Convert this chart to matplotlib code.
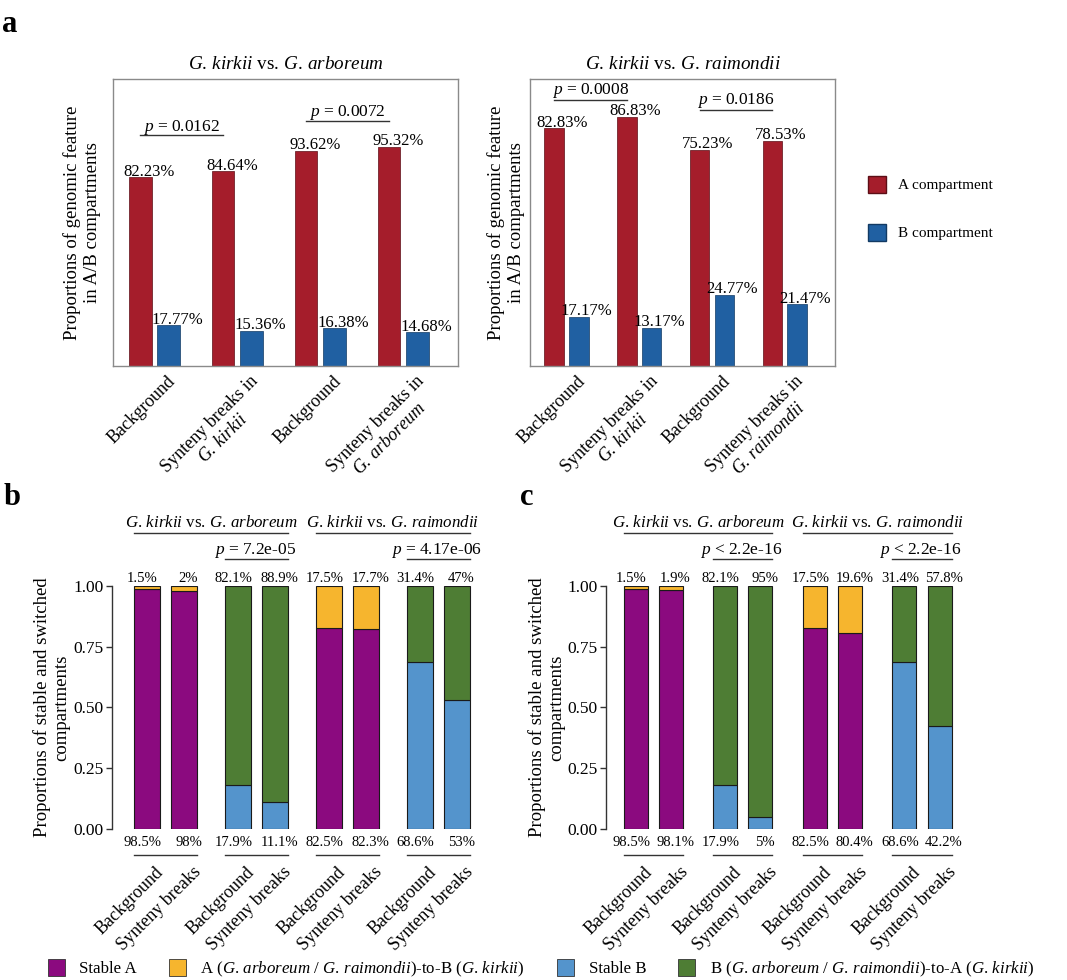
import numpy as np
import matplotlib
matplotlib.use('Agg')
import matplotlib.pyplot as plt
from matplotlib.patches import Patch
from matplotlib.transforms import ScaledTranslation

plt.rcParams['font.family'] = 'Liberation Serif'
plt.rcParams['mathtext.fontset'] = 'custom'
plt.rcParams['mathtext.rm'] = 'Liberation Serif'
plt.rcParams['mathtext.it'] = 'Liberation Serif:italic'

W, H = 1067, 980


def it(s):
    # italic species name
    return '$\\it{' + s.replace(' ', '\\,') + '}$'


# ---- panel a data (percent)
a_cats_arb = ['Background', 'Synteny breaks in\n' + it('G. kirkii'),
              'Background', 'Synteny breaks in\n' + it('G. arboreum')]
a_cats_rai = ['Background', 'Synteny breaks in\n' + it('G. kirkii'),
              'Background', 'Synteny breaks in\n' + it('G. raimondii')]
A_arb = [82.23, 84.64, 93.62, 95.32]
B_arb = [17.77, 15.36, 16.38, 14.68]
A_rai = [82.83, 86.83, 75.23, 78.53]
B_rai = [17.17, 13.17, 24.77, 21.47]
p_arb = ['0.0162', '0.0072']
p_rai = ['0.0008', '0.0186']

# ---- panels b / c data (percent; low = lower segment, high = upper segment)
bc_cats = ['Background', 'Synteny breaks'] * 4
b_low = [98.5, 98, 17.9, 11.1, 82.5, 82.3, 68.6, 53]
b_high = [1.5, 2, 82.1, 88.9, 17.5, 17.7, 31.4, 47]
c_low = [98.5, 98.1, 17.9, 5, 82.5, 80.4, 68.6, 42.2]
c_high = [1.5, 1.9, 82.1, 95, 17.5, 19.6, 31.4, 57.8]
low_type = ['Stable A', 'Stable A', 'Stable B', 'Stable B'] * 2
high_type = ['A-to-B', 'A-to-B', 'B-to-A', 'B-to-A'] * 2
comparisons = [it('G. kirkii') + ' vs. ' + it('G. arboreum'),
               it('G. kirkii') + ' vs. ' + it('G. raimondii')]
p_b = ['= 7.2e-05', '= 4.17e-06']
p_c = ['< 2.2e-16', '< 2.2e-16']

red, red_ec = '#a51d2b', '#5c0e16'
blue, blue_ec = '#2060a2', '#123a63'
cols = {'Stable A': '#8b0a7f', 'A-to-B': '#f6b52e',
        'Stable B': '#5494cc', 'B-to-A': '#4e7d34'}


def rect(x0, y0, x1, y1):
    return [x0 / W, 1 - y1 / H, (x1 - x0) / W, (y1 - y0) / H]


fig = plt.figure(figsize=(W / 100, H / 100), dpi=100)


def draw_a(ax, cats, A, B, pvals, plines, title, xlim, ylim, dx):
    x = np.arange(1, 5)
    ax.bar(x - 0.17, A, 0.27, color=red, edgecolor=red_ec, linewidth=0.5)
    ax.bar(x + 0.17, B, 0.27, color=blue, edgecolor=blue_ec, linewidth=0.5)
    for xi, v in zip(x - 0.17, A):
        ax.text(xi + 0.11, v + 0.6, f'{v:.2f}%', ha='center', va='baseline', fontsize=12)
    for xi, v in zip(x + 0.17, B):
        ax.text(xi + 0.11, v + 0.6, f'{v:.2f}%', ha='center', va='baseline', fontsize=12)
    for k, (pv, yl) in enumerate(zip(pvals, plines)):
        x0, x1 = 2 * k + 1 - 0.17, 2 * k + 2 - 0.17
        ax.plot([x0, x1], [yl, yl], color='#333333', lw=1)
        ax.text((x0 + x1) / 2, yl + 2, '$p$ = ' + pv, ha='center', va='baseline', fontsize=12.5)
    ax.set_xlim(xlim)
    ax.set_ylim(ylim)
    ax.set_yticks([])
    ax.set_xticks(x, cats, rotation=45, ha='right', rotation_mode='anchor',
                  multialignment='center', fontsize=13)
    ax.tick_params(axis='x', length=0, pad=5)
    for lbl in ax.get_xticklabels():
        lbl.set_transform(lbl.get_transform() + ScaledTranslation(dx, 0, fig.dpi_scale_trans))
    for s in ax.spines.values():
        s.set_color('#8a8a8a')
        s.set_linewidth(1)
    ax.set_title(title, fontsize=13.8, pad=7.5)
    ax.set_ylabel('Proportions of genomic feature\nin A/B compartments', fontsize=13.5)


ax1 = fig.add_axes(rect(113, 79, 458, 366))
draw_a(ax1, a_cats_arb, A_arb, B_arb, p_arb, [100.4, 106.7], comparisons[0],
       (0.5, 4.66), (0, 124.8), 0.12)
ax1.yaxis.set_label_coords(-0.036, 0.5)

ax2 = fig.add_axes(rect(530, 79, 835, 366))
draw_a(ax2, a_cats_rai, A_rai, B_rai, p_rai, [92.7, 89.2], comparisons[1],
       (0.5, 4.69), (0, 100), 0.1)
ax2.yaxis.set_label_coords(-0.018, 0.5)

fig.legend(handles=[Patch(facecolor=red, edgecolor=red_ec), Patch(facecolor=blue, edgecolor=blue_ec)],
           labels=['A compartment', 'B compartment'], loc='upper left',
           bbox_to_anchor=(868 / W, 1 - 176 / H), frameon=False, fontsize=11,
           handlelength=1.2, handleheight=1.3, labelspacing=2.05, handletextpad=0.75,
           borderpad=0, borderaxespad=0)


def draw_bc(ax, pos, low, high, pvals, width, xlim):
    lo = np.array(low) / 100
    hi = np.array(high) / 100
    ax.bar(pos, lo, width, color=[cols[t] for t in low_type], edgecolor='#1a1a1a', linewidth=0.8)
    ax.bar(pos, hi, width, bottom=lo, color=[cols[t] for t in high_type],
           edgecolor='#1a1a1a', linewidth=0.8)
    # value labels, nudged apart within each pair
    nudge = np.tile([-0.12, 0.12], 4)
    for xi, dn, l, h in zip(pos, nudge, low, high):
        ax.text(xi + dn, 1.016, f'{h:g}%', ha='center', va='baseline', fontsize=10.5, clip_on=False)
        ax.text(xi + dn, -0.07, f'{l:g}%', ha='center', va='baseline', fontsize=10.5, clip_on=False)
    # pair underlines below the bottom labels
    for k in range(4):
        x0, x1 = pos[2 * k] - width / 2, pos[2 * k + 1] + width / 2
        ax.plot([x0, x1], [-0.107, -0.107], color='#333333', lw=1, clip_on=False)
    # comparison headers and p values
    for k in range(2):
        x0, x1 = pos[4 * k] - width / 2, pos[4 * k + 3] + width / 2
        ax.plot([x0, x1], [1.218, 1.218], color='#333333', lw=1, clip_on=False)
        ax.text((x0 + x1) / 2, 1.243, comparisons[k], ha='center', va='baseline',
                fontsize=12.2, clip_on=False)
        x0, x1 = pos[4 * k + 2] - width / 2, pos[4 * k + 3] + width / 2
        ax.plot([x0, x1], [1.111, 1.111], color='#333333', lw=1, clip_on=False)
        ax.text((x0 + x1) / 2 - 0.05, 1.132, '$p$ ' + pvals[k], ha='center', va='baseline',
                fontsize=12.5, clip_on=False)
    ax.set_xlim(xlim)
    ax.set_ylim(0, 1)
    ax.set_yticks([0, 0.25, 0.5, 0.75, 1.0], ['0.00', '0.25', '0.50', '0.75', '1.00'], fontsize=12.5)
    ax.tick_params(axis='y', length=4, width=1, color='#333333', pad=2)
    ax.set_xticks(pos, bc_cats, rotation=45, ha='right', rotation_mode='anchor', fontsize=13)
    ax.tick_params(axis='x', length=0, pad=25)
    for lbl in ax.get_xticklabels():
        lbl.set_transform(lbl.get_transform() + ScaledTranslation(0.08, 0, fig.dpi_scale_trans))
    for s in ['top', 'right', 'bottom']:
        ax.spines[s].set_visible(False)
    ax.spines['left'].set_color('#333333')
    ax.spines['left'].set_linewidth(1)
    ax.set_ylabel('Proportions of stable and switched\ncompartments', fontsize=13.5)


pos_b = np.repeat(np.arange(4) * 2.457, 2) + np.tile([0, 1], 4)
axb = fig.add_axes(rect(111.7, 585.7, 485, 829))
draw_bc(axb, pos_b, b_low, b_high, p_b, 0.7, (-0.954, 9.135))
axb.yaxis.set_label_coords(-0.11, 0.5)

pos_c = np.repeat(np.arange(4) * 2.535, 2) + np.tile([0, 1], 4)
axc = fig.add_axes(rect(606, 585.7, 975, 829))
draw_bc(axc, pos_c, c_low, c_high, p_c, 0.68, (-0.84, 9.61))
axc.yaxis.set_label_coords(-0.11, 0.5)

leg_labels = ['Stable A',
              'A (' + it('G. arboreum') + ' / ' + it('G. raimondii') + ')-to-B (' + it('G. kirkii') + ')',
              'Stable B',
              'B (' + it('G. arboreum') + ' / ' + it('G. raimondii') + ')-to-A (' + it('G. kirkii') + ')']
leg_cols = [cols['Stable A'], cols['A-to-B'], cols['Stable B'], cols['B-to-A']]
fig.legend(handles=[Patch(facecolor=c, edgecolor='#333333', linewidth=0.6) for c in leg_cols],
           labels=leg_labels, loc='center', bbox_to_anchor=(541 / W, 1 - 969 / H), ncol=4,
           frameon=False, fontsize=12.2, handlelength=1.0, handleheight=1.15,
           handletextpad=0.85, columnspacing=1.9, borderpad=0)

fig.text(2 / W, 1 - 32 / H, 'a', fontsize=22, fontweight='bold', va='baseline')
fig.text(4 / W, 1 - 505 / H, 'b', fontsize=22, fontweight='bold', va='baseline')
fig.text(520 / W, 1 - 505 / H, 'c', fontsize=22, fontweight='bold', va='baseline')

fig.savefig('out.png', dpi=100)
